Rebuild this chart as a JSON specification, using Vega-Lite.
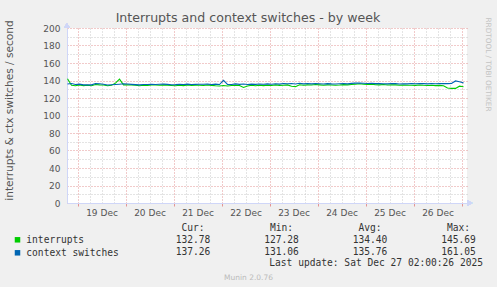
{
  "$schema": "https://vega.github.io/schema/vega-lite/v6.json",
  "width": 400,
  "height": 175,
  "autosize": {"type": "none"},
  "padding": {"left": 67, "top": 28, "right": 30, "bottom": 84},
  "background": "#f0f0f0",
  "title": {
    "text": "Interrupts and context switches - by week",
    "anchor": "middle",
    "frame": "group",
    "dx": -19,
    "dy": 14,
    "offset": 6,
    "font": "DejaVu Sans",
    "fontSize": 12.6,
    "fontWeight": "normal",
    "color": "#555555"
  },
  "config": {
    "view": {"fill": "#ffffff", "stroke": null},
    "font": "DejaVu Sans",
    "axis": {
      "labelFont": "DejaVu Sans",
      "titleFont": "DejaVu Sans",
      "labelColor": "#555555",
      "titleColor": "#555555",
      "titleFontWeight": "normal"
    }
  },
  "datasets": {
    "series": [
      {"t": "2025-12-18T19:00:00Z", "interrupts": 142.0, "ctx": 136.0},
      {"t": "2025-12-18T21:00:00Z", "interrupts": 134.5, "ctx": 136.5},
      {"t": "2025-12-18T23:00:00Z", "interrupts": 134.0, "ctx": 135.5},
      {"t": "2025-12-19T01:00:00Z", "interrupts": 135.0, "ctx": 135.8},
      {"t": "2025-12-19T03:00:00Z", "interrupts": 134.2, "ctx": 135.0},
      {"t": "2025-12-19T05:00:00Z", "interrupts": 134.5, "ctx": 135.2},
      {"t": "2025-12-19T07:00:00Z", "interrupts": 134.0, "ctx": 135.0},
      {"t": "2025-12-19T09:00:00Z", "interrupts": 135.5, "ctx": 136.5},
      {"t": "2025-12-19T11:00:00Z", "interrupts": 135.0, "ctx": 136.3},
      {"t": "2025-12-19T13:00:00Z", "interrupts": 134.8, "ctx": 135.8},
      {"t": "2025-12-19T15:00:00Z", "interrupts": 134.0, "ctx": 134.8},
      {"t": "2025-12-19T17:00:00Z", "interrupts": 134.5, "ctx": 135.2},
      {"t": "2025-12-19T19:00:00Z", "interrupts": 137.0, "ctx": 135.5},
      {"t": "2025-12-19T21:00:00Z", "interrupts": 141.5, "ctx": 135.8},
      {"t": "2025-12-19T23:00:00Z", "interrupts": 135.0, "ctx": 136.2},
      {"t": "2025-12-20T01:00:00Z", "interrupts": 135.2, "ctx": 136.0},
      {"t": "2025-12-20T03:00:00Z", "interrupts": 134.8, "ctx": 135.6},
      {"t": "2025-12-20T05:00:00Z", "interrupts": 134.6, "ctx": 135.3},
      {"t": "2025-12-20T07:00:00Z", "interrupts": 134.0, "ctx": 135.0},
      {"t": "2025-12-20T09:00:00Z", "interrupts": 134.5, "ctx": 135.4},
      {"t": "2025-12-20T11:00:00Z", "interrupts": 134.3, "ctx": 135.5},
      {"t": "2025-12-20T13:00:00Z", "interrupts": 135.0, "ctx": 135.6},
      {"t": "2025-12-20T15:00:00Z", "interrupts": 134.8, "ctx": 135.4},
      {"t": "2025-12-20T17:00:00Z", "interrupts": 134.5, "ctx": 135.7},
      {"t": "2025-12-20T19:00:00Z", "interrupts": 135.0, "ctx": 135.9},
      {"t": "2025-12-20T21:00:00Z", "interrupts": 134.7, "ctx": 135.6},
      {"t": "2025-12-20T23:00:00Z", "interrupts": 134.3, "ctx": 135.2},
      {"t": "2025-12-21T01:00:00Z", "interrupts": 134.0, "ctx": 135.3},
      {"t": "2025-12-21T03:00:00Z", "interrupts": 134.6, "ctx": 135.6},
      {"t": "2025-12-21T05:00:00Z", "interrupts": 134.2, "ctx": 135.4},
      {"t": "2025-12-21T07:00:00Z", "interrupts": 134.8, "ctx": 135.8},
      {"t": "2025-12-21T09:00:00Z", "interrupts": 134.4, "ctx": 135.5},
      {"t": "2025-12-21T11:00:00Z", "interrupts": 134.5, "ctx": 135.6},
      {"t": "2025-12-21T13:00:00Z", "interrupts": 134.6, "ctx": 135.7},
      {"t": "2025-12-21T15:00:00Z", "interrupts": 134.3, "ctx": 135.8},
      {"t": "2025-12-21T17:00:00Z", "interrupts": 134.8, "ctx": 135.9},
      {"t": "2025-12-21T19:00:00Z", "interrupts": 134.4, "ctx": 135.5},
      {"t": "2025-12-21T21:00:00Z", "interrupts": 134.0, "ctx": 135.8},
      {"t": "2025-12-21T23:00:00Z", "interrupts": 133.8, "ctx": 135.4},
      {"t": "2025-12-22T01:00:00Z", "interrupts": 134.2, "ctx": 140.2},
      {"t": "2025-12-22T03:00:00Z", "interrupts": 133.8, "ctx": 135.6},
      {"t": "2025-12-22T05:00:00Z", "interrupts": 134.2, "ctx": 135.4},
      {"t": "2025-12-22T07:00:00Z", "interrupts": 134.5, "ctx": 136.1},
      {"t": "2025-12-22T09:00:00Z", "interrupts": 134.3, "ctx": 135.6},
      {"t": "2025-12-22T11:00:00Z", "interrupts": 132.0, "ctx": 136.0},
      {"t": "2025-12-22T13:00:00Z", "interrupts": 133.8, "ctx": 135.5},
      {"t": "2025-12-22T15:00:00Z", "interrupts": 134.5, "ctx": 135.8},
      {"t": "2025-12-22T17:00:00Z", "interrupts": 134.0, "ctx": 135.6},
      {"t": "2025-12-22T19:00:00Z", "interrupts": 134.6, "ctx": 136.0},
      {"t": "2025-12-22T21:00:00Z", "interrupts": 134.2, "ctx": 135.7},
      {"t": "2025-12-22T23:00:00Z", "interrupts": 134.6, "ctx": 136.1},
      {"t": "2025-12-23T01:00:00Z", "interrupts": 134.3, "ctx": 135.8},
      {"t": "2025-12-23T03:00:00Z", "interrupts": 135.0, "ctx": 136.2},
      {"t": "2025-12-23T05:00:00Z", "interrupts": 134.4, "ctx": 135.9},
      {"t": "2025-12-23T07:00:00Z", "interrupts": 134.6, "ctx": 136.6},
      {"t": "2025-12-23T09:00:00Z", "interrupts": 135.0, "ctx": 136.3},
      {"t": "2025-12-23T11:00:00Z", "interrupts": 133.4, "ctx": 136.5},
      {"t": "2025-12-23T13:00:00Z", "interrupts": 133.0, "ctx": 136.0},
      {"t": "2025-12-23T15:00:00Z", "interrupts": 135.2, "ctx": 136.8},
      {"t": "2025-12-23T17:00:00Z", "interrupts": 134.6, "ctx": 136.2},
      {"t": "2025-12-23T19:00:00Z", "interrupts": 135.0, "ctx": 136.6},
      {"t": "2025-12-23T21:00:00Z", "interrupts": 134.8, "ctx": 136.2},
      {"t": "2025-12-23T23:00:00Z", "interrupts": 135.4, "ctx": 136.5},
      {"t": "2025-12-24T01:00:00Z", "interrupts": 135.0, "ctx": 136.3},
      {"t": "2025-12-24T03:00:00Z", "interrupts": 134.6, "ctx": 136.0},
      {"t": "2025-12-24T05:00:00Z", "interrupts": 135.0, "ctx": 136.4},
      {"t": "2025-12-24T07:00:00Z", "interrupts": 134.8, "ctx": 136.1},
      {"t": "2025-12-24T09:00:00Z", "interrupts": 134.5, "ctx": 136.0},
      {"t": "2025-12-24T11:00:00Z", "interrupts": 134.8, "ctx": 136.3},
      {"t": "2025-12-24T13:00:00Z", "interrupts": 135.3, "ctx": 136.5},
      {"t": "2025-12-24T15:00:00Z", "interrupts": 135.0, "ctx": 136.2},
      {"t": "2025-12-24T17:00:00Z", "interrupts": 135.5, "ctx": 136.7},
      {"t": "2025-12-24T19:00:00Z", "interrupts": 135.8, "ctx": 137.0},
      {"t": "2025-12-24T21:00:00Z", "interrupts": 136.2, "ctx": 137.2},
      {"t": "2025-12-24T23:00:00Z", "interrupts": 135.8, "ctx": 136.8},
      {"t": "2025-12-25T01:00:00Z", "interrupts": 135.5, "ctx": 136.5},
      {"t": "2025-12-25T03:00:00Z", "interrupts": 135.8, "ctx": 136.8},
      {"t": "2025-12-25T05:00:00Z", "interrupts": 135.2, "ctx": 136.4},
      {"t": "2025-12-25T07:00:00Z", "interrupts": 135.0, "ctx": 136.6},
      {"t": "2025-12-25T09:00:00Z", "interrupts": 135.4, "ctx": 136.3},
      {"t": "2025-12-25T11:00:00Z", "interrupts": 134.8, "ctx": 136.2},
      {"t": "2025-12-25T13:00:00Z", "interrupts": 135.2, "ctx": 136.5},
      {"t": "2025-12-25T15:00:00Z", "interrupts": 135.0, "ctx": 136.4},
      {"t": "2025-12-25T17:00:00Z", "interrupts": 134.6, "ctx": 136.0},
      {"t": "2025-12-25T19:00:00Z", "interrupts": 134.8, "ctx": 136.3},
      {"t": "2025-12-25T21:00:00Z", "interrupts": 134.5, "ctx": 136.2},
      {"t": "2025-12-25T23:00:00Z", "interrupts": 134.6, "ctx": 136.5},
      {"t": "2025-12-26T01:00:00Z", "interrupts": 134.4, "ctx": 136.3},
      {"t": "2025-12-26T03:00:00Z", "interrupts": 134.8, "ctx": 136.6},
      {"t": "2025-12-26T05:00:00Z", "interrupts": 134.5, "ctx": 136.4},
      {"t": "2025-12-26T07:00:00Z", "interrupts": 134.3, "ctx": 136.2},
      {"t": "2025-12-26T09:00:00Z", "interrupts": 134.6, "ctx": 136.5},
      {"t": "2025-12-26T11:00:00Z", "interrupts": 134.2, "ctx": 136.3},
      {"t": "2025-12-26T13:00:00Z", "interrupts": 134.4, "ctx": 136.4},
      {"t": "2025-12-26T15:00:00Z", "interrupts": 134.0, "ctx": 136.6},
      {"t": "2025-12-26T17:00:00Z", "interrupts": 131.5, "ctx": 136.4},
      {"t": "2025-12-26T19:00:00Z", "interrupts": 131.0, "ctx": 136.5},
      {"t": "2025-12-26T21:00:00Z", "interrupts": 131.0, "ctx": 139.5},
      {"t": "2025-12-26T23:00:00Z", "interrupts": 133.5, "ctx": 138.5},
      {"t": "2025-12-27T01:00:00Z", "interrupts": 132.8, "ctx": 137.3}
    ],
    "stats": [
      {"series": "interrupts", "cur": 132.78, "min": 127.28, "avg": 134.40, "max": 145.69},
      {"series": "context switches", "cur": 137.26, "min": 131.06, "avg": 135.76, "max": 161.05}
    ],
    "headers": [
      {"stat": "cur", "label": "Cur:"},
      {"stat": "min", "label": "Min:"},
      {"stat": "avg", "label": "Avg:"},
      {"stat": "max", "label": "Max:"}
    ],
    "update": [
      {"label": "Last update: Sat Dec 27 02:00:26 2025"}
    ]
  },
  "layer": [
    {
      "data": {"name": "series"},
      "resolve": {"axis": {"x": "independent", "y": "independent"}},
      "layer": [
        {
          "mark": {"type": "point", "shape": "triangle-up", "filled": true, "size": 30, "color": "#cfd6f8", "opacity": 1, "clip": false},
          "encoding": {
            "x": {
              "datum": 1766083500000,
              "type": "temporal",
              "scale": {"type": "utc", "domain": [1766083500000, 1766803500000]},
              "axis": {
                "orient": "bottom",
                "values": [1766124000000, 1766145600000, 1766167200000, 1766210400000, 1766232000000, 1766253600000, 1766296800000, 1766318400000, 1766340000000, 1766383200000, 1766404800000, 1766426400000, 1766469600000, 1766491200000, 1766512800000, 1766556000000, 1766577600000, 1766599200000, 1766642400000, 1766664000000, 1766685600000, 1766728800000, 1766750400000, 1766772000000],
                "grid": true, "gridColor": "#c8c8c8", "gridDash": [1, 2], "gridWidth": 1,
                "labels": false, "ticks": false, "domain": false, "title": null
              }
            },
            "y": {
              "datum": 203,
              "type": "quantitative",
              "scale": {"domain": [0, 200], "nice": false, "zero": true},
              "axis": {
                "orient": "left",
                "values": [10, 30, 50, 70, 90, 110, 130, 150, 170, 190],
                "grid": true, "gridColor": "#c8c8c8", "gridDash": [1, 2], "gridWidth": 1,
                "labels": false, "ticks": false, "domain": false, "title": null
              }
            }
          }
        },
        {
          "mark": {"type": "point", "shape": "triangle-right", "filled": true, "size": 30, "color": "#cfd6f8", "opacity": 1, "clip": false},
          "encoding": {
            "x": {"datum": 1766808900000, "type": "temporal", "axis": null},
            "y": {"datum": 0, "type": "quantitative", "axis": null}
          }
        },
        {
          "mark": {"type": "line", "strokeWidth": 1.1, "interpolate": "linear"},
          "encoding": {
            "x": {
              "field": "t",
              "type": "temporal",
              "axis": {
                "orient": "bottom",
                "values": [1766102400000, 1766188800000, 1766275200000, 1766361600000, 1766448000000, 1766534400000, 1766620800000, 1766707200000, 1766793600000],
                "grid": true, "gridColor": "#e39494", "gridDash": [1, 2], "gridWidth": 1,
                "labels": false, "ticks": true, "tickColor": "#e39494", "tickSize": 3, "domain": false, "title": null
              }
            },
            "y": {
              "field": "interrupts",
              "type": "quantitative",
              "axis": {
                "orient": "left",
                "values": [0, 20, 40, 60, 80, 100, 120, 140, 160, 180, 200],
                "grid": true, "gridColor": "#e39494", "gridDash": [1, 2], "gridWidth": 1,
                "labels": true, "labelFontSize": 9, "labelPadding": 7,
                "ticks": false, "domain": true, "domainColor": "#cfd6f8", "domainWidth": 1,
                "title": "interrupts & ctx switches / second",
                "titleFontSize": 10.6, "titleAngle": -90, "titleX": -58, "titleY": 82,
                "titleAlign": "center", "titleBaseline": "middle"
              }
            },
            "color": {
              "datum": "interrupts",
              "type": "nominal",
              "scale": {"domain": ["interrupts", "context switches"], "range": ["#00cc00", "#0066b3"]},
              "legend": {
                "orient": "none", "legendX": -54.3, "legendY": 207,
                "title": null, "padding": 0,
                "symbolType": "square", "symbolSize": 4, "symbolStrokeWidth": 3.5, "symbolOpacity": 1,
                "labelFont": "DejaVu Sans Mono", "labelFontSize": 9.6, "labelColor": "#333333",
                "labelOffset": 4, "rowPadding": -8
              }
            }
          }
        },
        {
          "mark": {"type": "line", "strokeWidth": 1.1, "interpolate": "linear"},
          "encoding": {
            "x": {
              "field": "t",
              "type": "temporal",
              "axis": {
                "orient": "bottom",
                "values": [1766145600000, 1766232000000, 1766318400000, 1766404800000, 1766491200000, 1766577600000, 1766664000000, 1766750400000],
                "format": "%d %b",
                "grid": false, "labels": true, "labelFontSize": 9, "labelPadding": 5,
                "ticks": false, "domain": true, "domainColor": "#cfd6f8", "domainWidth": 1,
                "title": "Munin 2.0.76", "titleFontSize": 7.5, "titleColor": "#bbbbbb",
                "titleX": 181, "titleY": 74, "titleAlign": "center", "titleBaseline": "middle"
              }
            },
            "y": {
              "field": "ctx",
              "type": "quantitative",
              "axis": {
                "orient": "right",
                "grid": false, "labels": false, "ticks": false, "domain": false,
                "title": "RRDTOOL / TOBI OETIKER", "titleFontSize": 7.3, "titleColor": "#c4c4c4",
                "titleAngle": 90, "titleX": 20, "titleY": 36, "titleAlign": "center", "titleBaseline": "middle"
              }
            },
            "color": {"datum": "context switches", "type": "nominal"}
          }
        }
      ]
    },
    {
      "layer": [
        {
          "data": {"name": "stats"},
          "transform": [{"fold": ["cur", "min", "avg", "max"], "as": ["stat", "value"]}],
          "mark": {"type": "text", "font": "DejaVu Sans Mono", "fontSize": 9.6, "color": "#333333", "align": "center", "baseline": "middle"},
          "encoding": {
            "x": {"field": "stat", "type": "nominal", "scale": {"type": "point", "domain": ["cur", "min", "avg", "max"], "range": [126, 391.5], "padding": 0}, "axis": null},
            "y": {"field": "series", "type": "nominal", "scale": {"type": "point", "domain": ["hdr", "interrupts", "context switches", "upd"], "range": [200.3, 235.3], "padding": 0}, "axis": null},
            "text": {"field": "value", "type": "quantitative", "format": ".2f"}
          }
        },
        {
          "data": {"name": "headers"},
          "mark": {"type": "text", "font": "DejaVu Sans Mono", "fontSize": 9.6, "color": "#333333", "align": "center", "baseline": "middle"},
          "encoding": {
            "x": {"field": "stat", "type": "nominal", "axis": null},
            "y": {"datum": "hdr", "type": "nominal", "axis": null},
            "text": {"field": "label", "type": "nominal"}
          }
        },
        {
          "data": {"name": "update"},
          "mark": {"type": "text", "font": "DejaVu Sans Mono", "fontSize": 9.6, "color": "#333333", "align": "right", "baseline": "middle", "dx": 24.5},
          "encoding": {
            "x": {"datum": "max", "type": "nominal", "axis": null},
            "y": {"datum": "upd", "type": "nominal", "axis": null},
            "text": {"field": "label", "type": "nominal"}
          }
        }
      ]
    }
  ],
  "resolve": {"scale": {"x": "independent", "y": "independent"}}
}
